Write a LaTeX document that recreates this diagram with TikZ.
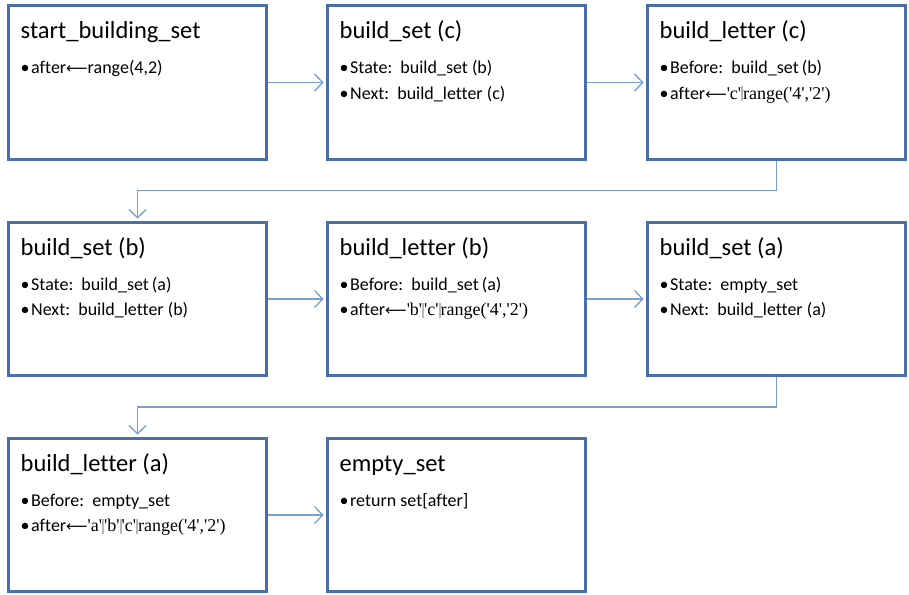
\documentclass[tikz,border=0pt]{standalone}
\usepackage{fontspec}
\setmainfont{Carlito}[Ligatures={TeX,NoCommon}]
\newfontfamily\tms{Liberation Serif}
\newfontfamily\sym{DejaVu Sans}
\usetikzlibrary{arrows.meta,calc}
\definecolor{boxblue}{HTML}{4A6EAA}
\definecolor{linkblue}{HTML}{7A9DD3}
% light grey concatenation bar between quoted letters
\newcommand{\gbar}{\textcolor{black!28}{\rule[-2pt]{2pt}{15pt}}}
% long left arrow used for assignment
\newcommand{\larr}{{\sym\fontsize{15}{17}\selectfont ⟵}}
\newcommand{\bul}{•\hspace{1.5pt}}
\begin{document}
\begin{tikzpicture}[x=1pt,y=-1pt,
  stepbox/.style={draw=boxblue,line width=3pt,fill=white,minimum width=258pt,
    minimum height=153pt,inner sep=0pt,outer sep=0pt},
  titletext/.style={anchor=base west,inner sep=0pt,font=\fontsize{24.5}{28}\selectfont},
  itemtext/.style={anchor=base west,inner sep=0pt,font=\fontsize{18}{21}\selectfont},
  link/.style={draw=linkblue,line width=1.3pt,shorten >=4pt,shorten <=1.5pt,
    -{Straight Barb[length=8pt,width=17pt,line width=1.3pt]}}]
\fill[white] (0,0) rectangle (909,594);
\useasboundingbox (0,0) rectangle (909,594);

% boxes, three rows of three
\node[stepbox] (b1) at (137.5,82.5) {};
\node[stepbox] (b2) at (456.5,82.5) {};
\node[stepbox] (b3) at (776.5,82.5) {};
\node[stepbox] (b4) at (137.5,299) {};
\node[stepbox] (b5) at (456.5,299) {};
\node[stepbox] (b6) at (776.5,299) {};
\node[stepbox] (b7) at (137.5,515) {};
\node[stepbox] (b8) at (456.5,515) {};

% titles
\node[titletext] (t1) at ($(b1.north west)+(12,33)$) {start\_building\_set};
\node[titletext] (t2) at ($(b2.north west)+(12,33)$) {build\_set (c)};
\node[titletext] (t3) at ($(b3.north west)+(12,33)$) {build\_letter (c)};
\node[titletext] (t4) at ($(b4.north west)+(12,33)$) {build\_set (b)};
\node[titletext] (t5) at ($(b5.north west)+(12,33)$) {build\_letter (b)};
\node[titletext] (t6) at ($(b6.north west)+(12,33)$) {build\_set (a)};
\node[titletext] (t7) at ($(b7.north west)+(12,33)$) {build\_letter (a)};
\node[titletext] (t8) at ($(b8.north west)+(12,33)$) {empty\_set};

% bullet lines
\node[itemtext] (i1a) at ($(b1.north west)+(12,68)$) {\bul after\larr range(4,2)};

\node[itemtext] (i2a) at ($(b2.north west)+(12,68)$) {\bul State:\ \ build\_set (b)};
\node[itemtext] (i2b) at ($(b2.north west)+(12,93)$) {\bul Next:\ \ build\_letter (c)};

\node[itemtext] (i3a) at ($(b3.north west)+(12,68)$) {\bul Before:\ \ build\_set\,(b)};
\node[itemtext] (i3b) at ($(b3.north west)+(12,93)$) {\bul after\larr{\tms 'c'\gbar range('4','2')}};

\node[itemtext] (i4a) at ($(b4.north west)+(12,68)$) {\bul State:\ \ build\_set\,(a)};
\node[itemtext] (i4b) at ($(b4.north west)+(12,93)$) {\bul Next:\ \ build\_letter (b)};

\node[itemtext] (i5a) at ($(b5.north west)+(12,68)$) {\bul Before:\ \ build\_set\,(a)};
\node[itemtext] (i5b) at ($(b5.north west)+(12,93)$) {\bul after\larr{\tms 'b'\gbar'c'\gbar range('4','2')}};

\node[itemtext] (i6a) at ($(b6.north west)+(12,68)$) {\bul State:\ \ empty\_set};
\node[itemtext] (i6b) at ($(b6.north west)+(12,93)$) {\bul Next:\ \ build\_letter (a)};

\node[itemtext] (i7a) at ($(b7.north west)+(12,68)$) {\bul Before:\ \ empty\_set};
\node[itemtext] (i7b) at ($(b7.north west)+(12,93)$) {\bul after\larr{\tms 'a'\gbar'b'\gbar'c'\gbar range('4','2')}};

\node[itemtext] (i8a) at ($(b8.north west)+(12,68)$) {\bul return set[after]};

% connectors within rows
\draw[link] (b1) -- (b2);
\draw[link] (b2) -- (b3);
\draw[link] (b4) -- (b5);
\draw[link] (b5) -- (b6);
\draw[link] (b7) -- (b8);

% connectors wrapping to the next row
\coordinate (m1) at ($(b3.south)!0.5!(b4.north)$);
\coordinate (m2) at ($(b6.south)!0.5!(b7.north)$);
\draw[link] (b3.south) |- (m1) -| (b4.north);
\draw[link] (b6.south) |- (m2) -| (b7.north);
\end{tikzpicture}
\end{document}
